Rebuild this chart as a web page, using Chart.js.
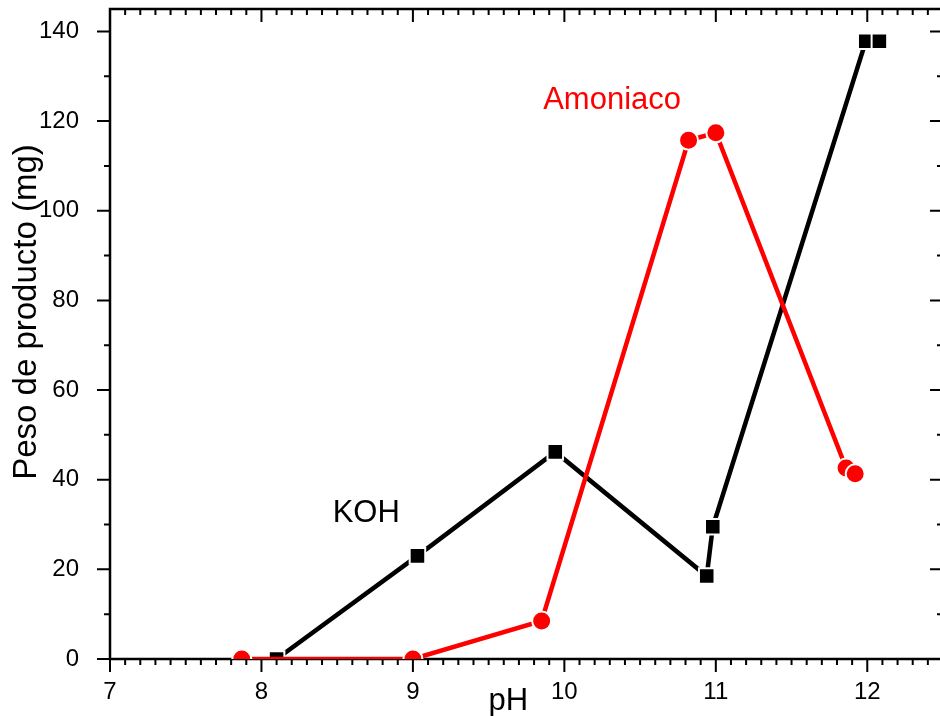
<!DOCTYPE html>
<html lang="es">
<head>
<meta charset="UTF-8">
<title>Peso de producto vs pH</title>
<script src="https://cdn.jsdelivr.net/npm/chart.js"></script>
<style>
  html, body { margin: 0; padding: 0; background: #fff; overflow: hidden; }
  #wrap { position: relative; width: 943px; height: 716px; }
</style>
</head>
<body>
<div id="wrap"><canvas id="chart"></canvas></div>
<script>
// datos
const kohPH = [8.10, 9.03, 9.94, 10.94, 10.98, 11.99, 12.08];
const kohPeso = [0, 23.0, 46.2, 18.5, 29.5, 137.8, 137.8];
const amoPH = [7.87, 9.00, 9.85, 10.82, 11.00, 11.86, 11.92];
const amoPeso = [0, 0, 8.5, 115.7, 117.4, 42.6, 41.3];

const xTicks = [7, 8, 9, 10, 11, 12];
const yTicks = [0, 20, 40, 60, 80, 100, 120, 140];

const FONT = "'Liberation Sans', Arial, sans-serif";
Chart.defaults.font.family = FONT;
Chart.defaults.color = '#000';

const toPoints = (xs, ys) => xs.map((v, i) => ({x: v, y: ys[i]}));

// marco, ticks menores y textos
const frame = {
  id: 'frame',
  beforeDatasetsDraw(chart) {
    const {ctx, chartArea: a, scales: {x, y}} = chart;
    ctx.save();
    ctx.strokeStyle = '#000';
    ctx.lineWidth = 2.5;
    ctx.strokeRect(a.left, a.top, a.right - a.left, a.bottom - a.top);
    ctx.lineWidth = 2;
    ctx.beginPath();
    for (let i = 70; i <= 125; i++) {
      const px = x.getPixelForValue(i / 10);
      const len = i % 10 === 0 ? 13 : 6;
      ctx.moveTo(px, a.bottom); ctx.lineTo(px, a.bottom + len);
      ctx.moveTo(px, a.top); ctx.lineTo(px, a.top + len);
    }
    for (let v = 0; v <= 145; v += 10) {
      const py = y.getPixelForValue(v);
      const len = v % 20 === 0 ? 13 : 6;
      ctx.moveTo(a.left, py); ctx.lineTo(a.left - len, py);
      ctx.moveTo(a.right, py); ctx.lineTo(a.right - len, py);
    }
    ctx.stroke();
    ctx.restore();
  },
  afterDraw(chart) {
    const {ctx, scales: {x, y}} = chart;
    ctx.save();
    ctx.textBaseline = 'alphabetic';
    ctx.textAlign = 'left';
    ctx.font = '31px ' + FONT;
    ctx.fillStyle = '#ff0000';
    ctx.fillText('Amoniaco', x.getPixelForValue(9.86), y.getPixelForValue(122.8));
    ctx.fillStyle = '#000';
    ctx.fillText('KOH', x.getPixelForValue(8.47), y.getPixelForValue(30.6));
    ctx.textAlign = 'center';
    ctx.fillText('pH', x.getPixelForValue(9.63), 710);
    ctx.translate(27, 312);
    ctx.rotate(-Math.PI / 2);
    ctx.textBaseline = 'middle';
    ctx.font = '33px ' + FONT;
    ctx.fillText('Peso de producto (mg)', 0, 0);
    ctx.restore();
  }
};

const chart = new Chart(document.getElementById('chart'), {
  type: 'line',
  data: {
    datasets: [{
      label: 'KOH',
      data: toPoints(kohPH, kohPeso),
      order: 1,
      borderColor: '#000',
      backgroundColor: '#000',
      borderWidth: 4.5,
      pointStyle: 'rect',
      pointRadius: 11,
      pointBorderColor: '#fff',
      pointBorderWidth: 2,
      tension: 0
    }, {
      label: 'Amoniaco',
      data: toPoints(amoPH, amoPeso),
      order: 0,
      borderColor: '#ff0000',
      backgroundColor: '#ff0000',
      borderWidth: 4.5,
      pointStyle: 'circle',
      pointRadius: 9.5,
      pointBorderColor: '#fff',
      pointBorderWidth: 2,
      tension: 0
    }]
  },
  options: {
    animation: false,
    responsive: true,
    maintainAspectRatio: false,
    layout: { autoPadding: false, padding: { top: 9, left: 0, right: 0, bottom: 0 } },
    plugins: { legend: { display: false }, tooltip: { enabled: false } },
    scales: {
      x: {
        type: 'linear',
        min: 7,
        max: 12.5,
        grid: { display: false },
        border: { display: false },
        ticks: { font: { size: 24 }, padding: 11, maxRotation: 0 },
        afterBuildTicks: s => { s.ticks = xTicks.map(v => ({value: v})); },
        afterFit: s => { s.height = 57; s.paddingLeft = 0; s.paddingRight = 0; }
      },
      y: {
        type: 'linear',
        min: 0,
        max: 145,
        grid: { display: false },
        border: { display: false },
        ticks: { font: { size: 24 }, padding: 23 },
        afterBuildTicks: s => { s.ticks = yTicks.map(v => ({value: v})); },
        afterFit: s => { s.width = 110; s.paddingTop = 0; s.paddingBottom = 0; }
      }
    }
  },
  plugins: [frame]
});
</script>
</body>
</html>
